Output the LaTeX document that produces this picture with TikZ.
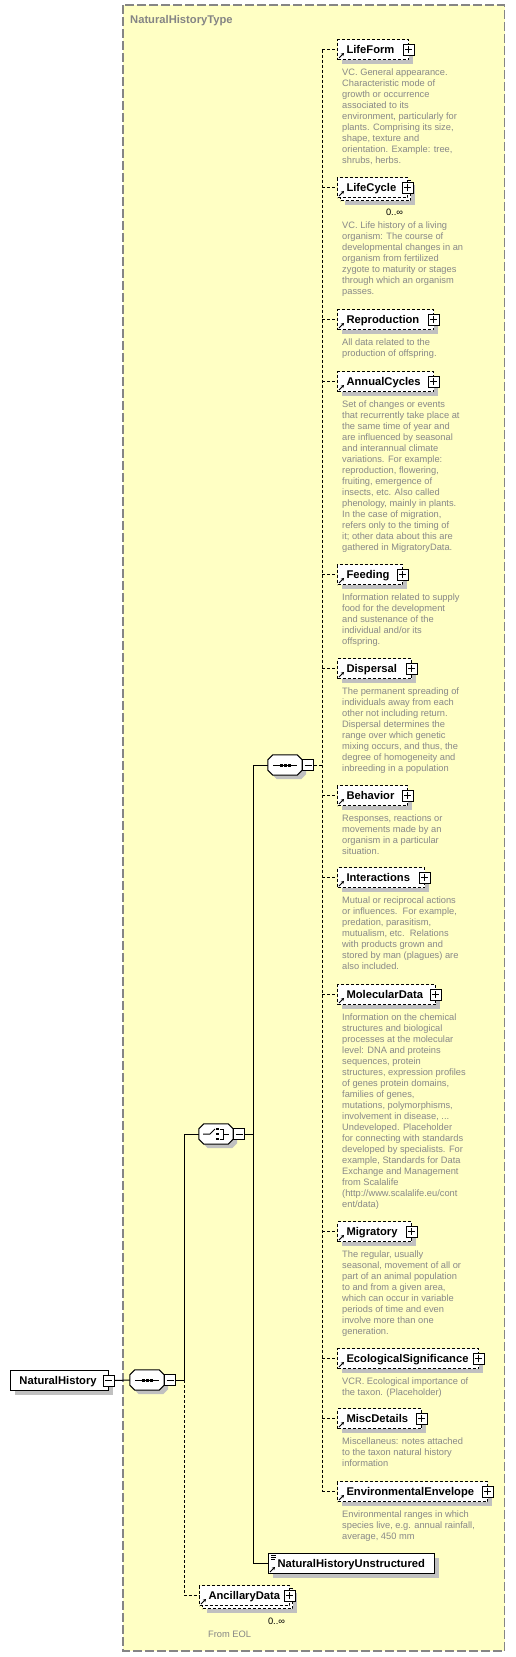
\documentclass[tikz,border=0pt]{standalone}
\usepackage{fontspec}
\setmainfont{Liberation Sans}
\usetikzlibrary{calc,arrows.meta,shadows,backgrounds}
\definecolor{bgyellow}{HTML}{FFFFC4}
\definecolor{framegray}{HTML}{858585}
\definecolor{descgray}{HTML}{888888}
\definecolor{shadowc}{HTML}{C0C0C0}
\tikzset{
  elshadow/.style={drop shadow={shadow xshift=4pt,shadow yshift=-4pt,fill=shadowc,opacity=1}},
  elbox/.style={draw=black, fill=white, line width=1pt, dash pattern=on 3pt off 2pt,
    anchor=north west, minimum height=20pt, inner xsep=9pt, inner ysep=0pt, align=left,
    text height=8.5pt, text depth=1.5pt, font=\fontsize{11.2}{13}\selectfont\bfseries},
  backbox/.style={draw=black, fill=white, line width=1pt, dash pattern=on 3pt off 2pt,
    anchor=north west, minimum height=20pt, inner sep=0pt, elshadow},
  plusbox/.style={draw=black, fill=white, line width=1pt, solid, minimum size=11pt, inner sep=0pt,
    path picture={\draw[line width=1pt]
      ([xshift=-3.5pt]path picture bounding box.center) -- ([xshift=3.5pt]path picture bounding box.center)
      ([yshift=-3.5pt]path picture bounding box.center) -- ([yshift=3.5pt]path picture bounding box.center);}},
  minusbox/.style={draw=black, fill=white, line width=1pt, solid, minimum size=11pt, inner sep=0pt,
    path picture={\draw[line width=1pt]
      ([xshift=-3.5pt]path picture bounding box.center) -- ([xshift=3.5pt]path picture bounding box.center);}},
  desc/.style={anchor=north west, inner sep=0pt, align=left, font=\fontsize{9.3}{11}\selectfont, text=descgray},
  occ/.style={inner sep=0pt, font=\fontsize{9.3}{11}\selectfont, text=black},
  conn/.style={line width=1pt, dash pattern=on 3pt off 2pt},
  sconn/.style={line width=1pt},
  refarrow/.style={line width=0.9pt, solid, -{Stealth[length=3pt,width=3.5pt]}},
  compnode/.style={minimum width=34pt, minimum height=20pt, inner sep=0pt},
}
% #1 extra style, #2 name, #3 label, #4 x, #5 y, #6 text width, #7 desc offset, #8 description
\newcommand\elem[8][elshadow]{%
  \node[elbox,#1,text width=#6pt] (#2) at (#4,#5) {\mbox{#3}};
  \node[plusbox] (#2p) at ($(#2.east)+(-0.5,0)$) {};
  \draw[refarrow] ($(#2.south west)+(2,-2)$) -- ++(5,-5);
  \node[desc] (#2d) at ($(#2.south west)+(5,#7)$) {\strut #8};
}
\newcommand\octa[2]{\path[#2] ($(#1.north west)+(5,0)$) -- ($(#1.north east)+(-5,0)$)
  -- ($(#1.north east)+(0,5)$) -- ($(#1.south east)+(0,-5)$) -- ($(#1.south east)+(-5,0)$)
  -- ($(#1.south west)+(5,0)$) -- ($(#1.south west)+(0,-5)$) -- ($(#1.north west)+(0,5)$) -- cycle;}
\newcommand\compo[3]{%
  \node[compnode] (#1) at (#2,#3) {};
  \octa{#1}{fill=shadowc, transform canvas={xshift=4pt,yshift=-4pt}}
  \octa{#1}{fill=white, draw=black, line width=1pt}
  \node[minusbox] (#1m) at ($(#1.east)+(6,0)$) {};
}
\newcommand\seqicon[1]{%
  \draw[line width=1pt] ($(#1.center)+(-12,0)$) -- ($(#1.center)+(12,0)$);
  \foreach \dx in {-4,0,4} \fill ($(#1.center)+(\dx-1.5,-1.5)$) rectangle +(3,3);
}
\begin{document}
\begin{tikzpicture}[x=1pt,y=-1pt]
\useasboundingbox (0,0) rectangle (515,1657);
\begin{pgfonlayer}{background}
\fill[bgyellow] (123,5) rectangle (504.5,1651);
\draw[framegray, line width=1.3pt, dash pattern=on 9pt off 3pt] (123,5) rectangle (504.5,1651);
\end{pgfonlayer}
\node[anchor=base west, inner sep=0pt, font=\fontsize{11.2}{13}\selectfont\bfseries, text=framegray] (title) at (130,23) {NaturalHistoryType};

% root element
\node[elbox, solid, elshadow, text width=80pt] (nh) at (10,1370) {\mbox{NaturalHistory}};
\node[minusbox] (nhm) at ($(nh.east)+(-0.5,0)$) {};

% compositors
\compo{seqA}{147}{1380}
\seqicon{seqA}
\compo{choice}{216}{1134}
\draw[line width=1pt] ($(choice.center)+(-13,0)$) -- ($(choice.center)+(-6,0)$) -- ($(choice.center)+(-1,-5)$);
\foreach \dy in {-5,0,5} \fill ($(choice.center)+(0,\dy-1.25)$) rectangle +(2.5,2.5);
\draw[line width=1pt] ($(choice.center)+(4,-5)$) -- ($(choice.center)+(7,-5)$) -- ($(choice.center)+(7,5)$) -- ($(choice.center)+(4,5)$);
\draw[line width=1pt] ($(choice.center)+(7,0)$) -- ($(choice.center)+(13,0)$);
\compo{seqB}{285}{765}
\seqicon{seqB}

% children of inner sequence
\elem{lifeform}{LifeForm}{337}{39}{53}{7.7}{VC. General appearance.\\Characteristic mode of\\growth or occurrence\\associated to its\\environment, particularly for\\plants. Comprising its size,\\shape, texture and\\orientation. Example: tree,\\shrubs, herbs.}

\node[backbox, minimum width=70pt] (lifecycleb) at (340,180) {};
\elem[]{lifecycle}{LifeCycle}{337}{177}{52}{22.7}{VC. Life history of a living\\organism: The course of\\developmental changes in an\\organism from fertilized\\zygote to maturity or stages\\through which an organism\\passes.}
\node[occ] (lifecycleo) at ($(lifecycle.south east)+(-13.5,14)$) {0..∞};

\elem{reproduction}{Reproduction}{337}{309}{78}{7.7}{All data related to the\\production of offspring.}

\elem{annualcycles}{AnnualCycles}{337}{371}{78}{7.7}{Set of changes or events\\that recurrently take place at\\the same time of year and\\are influenced by seasonal\\and interannual climate\\variations. For example:\\reproduction, flowering,\\fruiting, emergence of\\insects, etc. Also called\\phenology, mainly in plants.\\In the case of migration,\\refers only to the timing of\\it; other data about this are\\gathered in MigratoryData.}

\elem{feeding}{Feeding}{337}{564}{47}{7.7}{Information related to supply\\food for the development\\and sustenance of the\\individual and/or its\\offspring.}

\elem{dispersal}{Dispersal}{337}{658}{56}{7.7}{The permanent spreading of\\individuals away from each\\other not including return.\\Dispersal determines the\\range over which genetic\\mixing occurs, and thus, the\\degree of homogeneity and\\inbreeding in a population}

\elem{behavior}{Behavior}{337}{785}{52}{7.7}{Responses, reactions or\\movements made by an\\organism in a particular\\situation.}

\elem{interactions}{Interactions}{337}{867}{69}{7.7}{Mutual or reciprocal actions\\or influences.\ \ For example,\\predation, parasitism,\\mutualism, etc.\ \ Relations\\with products grown and\\stored by man (plagues) are\\also included.}

\elem{moleculardata}{MolecularData}{337}{984}{80}{7.7}{Information on the chemical\\structures and biological\\processes at the molecular\\level: DNA and proteins\\sequences, protein\\structures, expression profiles\\of genes protein domains,\\families of genes,\\mutations, polymorphisms,\\involvement in disease, ...\\Undeveloped. Placeholder\\for connecting with standards\\developed by specialists. For\\example, Standards for Data\\Exchange and Management\\from Scalalife\\(http://www.scalalife.eu/cont\\ent/data)}

\elem{migratory}{Migratory}{337}{1221}{56}{7.7}{The regular, usually\\seasonal, movement of all or\\part of an animal population\\to and from a given area,\\which can occur in variable\\periods of time and even\\involve more than one\\generation.}

\elem{ecosig}{EcologicalSignificance}{337}{1348}{123}{7.7}{VCR. Ecological importance of\\the taxon. (Placeholder)}

\elem{miscdetails}{MiscDetails}{337}{1408}{66}{7.7}{Miscellaneus: notes attached\\to the taxon natural history\\information}

\elem{envenv}{EnvironmentalEnvelope}{337}{1481}{132}{7.7}{Environmental ranges in which\\species live, e.g. annual rainfall,\\average, 450 mm}

% simple-content element
\node[elbox, solid, elshadow, text width=148pt] (nhu) at (268,1553) {\mbox{NaturalHistoryUnstructured}};
\draw[line width=0.8pt] ($(nhu.north west)+(3,2)$) -- ++(5,0)
  ($(nhu.north west)+(3,4)$) -- ++(5,0) ($(nhu.north west)+(3,6)$) -- ++(4,0);
\draw[refarrow] ($(nhu.south west)+(2,-2)$) -- ++(5,-5);

% AncillaryData (multiple)
\node[backbox, minimum width=90pt] (ancillaryb) at (202,1588) {};
\node[elbox, text width=72pt] (ancillary) at (199,1585) {\mbox{AncillaryData}};
\node[plusbox] (ancillaryp) at ($(ancillary.east)+(-0.5,0)$) {};
\draw[refarrow] ($(ancillary.south west)+(2,-2)$) -- ++(5,-5);
\node[occ] (ancillaryo) at ($(ancillary.south east)+(-13.5,15)$) {0..∞};
\node[anchor=west, inner sep=0pt, font=\fontsize{9.3}{11}\selectfont, text=framegray] (fromeol) at (208,1634) {From EOL};

% connectors
\coordinate (spineA) at (184,1380);
\coordinate (spineB) at (253,1134);
\coordinate (spineC) at (322,765);
\begin{pgfonlayer}{background}
\draw[sconn] (nhm.east) -- (seqA.west);
\draw[sconn] (seqAm.east) -- (spineA) -- (spineA |- choice.west) -- (choice.west);
\draw[conn] (spineA) -- (spineA |- ancillary.west) -- (ancillary.west);
\draw[sconn] (choicem.east) -- (spineB);
\draw[sconn] (seqB.west) -- (spineB |- seqB.west) -- (spineB |- nhu.west) -- (nhu.west);
\draw[conn] (seqBm.east) -- (spineC);
\draw[conn] (spineC |- lifeform.west) -- (spineC |- envenv.west);
\foreach \n in {lifeform,lifecycle,reproduction,annualcycles,feeding,dispersal,behavior,interactions,moleculardata,migratory,ecosig,miscdetails,envenv}
  \draw[conn] (spineC |- \n.west) -- (\n.west);
\end{pgfonlayer}
\end{tikzpicture}
\end{document}
